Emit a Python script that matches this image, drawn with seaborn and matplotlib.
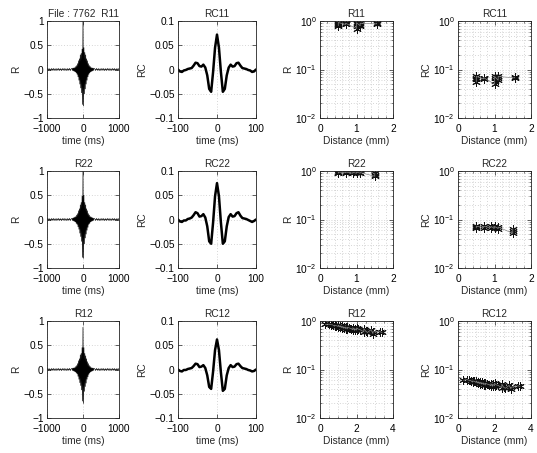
import numpy as np
import pandas as pd
import matplotlib
matplotlib.use("Agg")
import matplotlib.pyplot as plt
import seaborn as sns
from matplotlib.ticker import MultipleLocator, LogLocator, NullFormatter

sns.set_style("ticks")
plt.rcParams['font.family'] = ['Liberation Sans', 'DejaVu Sans']
plt.rcParams.update({
    'font.size': 7.3,
    'xtick.direction': 'in', 'ytick.direction': 'in',
    'xtick.major.size': 3, 'ytick.major.size': 3,
    'xtick.minor.size': 1.5, 'ytick.minor.size': 1.5,
    'xtick.major.width': 0.5, 'ytick.major.width': 0.5,
    'xtick.minor.width': 0.4, 'ytick.minor.width': 0.4,
    'axes.linewidth': 0.6, 'axes.edgecolor': '#222222',
    'xtick.color': '#222222', 'ytick.color': '#222222',
    'xtick.labelcolor': 'black', 'ytick.labelcolor': 'black',
    'xtick.top': True, 'ytick.right': True,
    'xtick.major.pad': 4, 'ytick.major.pad': 2.5,
    'axes.labelpad': 1.5,
    'axes.titlepad': 3,
    'axes.titlesize': 7.3, 'axes.labelsize': 7.3,
    'xtick.labelsize': 7.3, 'ytick.labelsize': 7.3,
})

# ---------------- data ----------------
# correlograms (R), core lags -300..300 ms in 12.5 ms steps
R11_core = [0.02, -0.02, 0.03, -0.03, 0.03, -0.04, 0.04, -0.05, 0.06, -0.07, 0.08, -0.1, 0.12, -0.15,
            0.18, -0.22, 0.22, -0.3, 0.3, -0.38, 0.33, -0.48, 0.42, -0.72, 1.0, -0.75, 0.45, -0.5, 0.35,
            -0.4, 0.3, -0.3, 0.22, -0.22, 0.18, -0.15, 0.12, -0.1, 0.08, -0.07, 0.06, -0.05, 0.04, -0.04,
            0.03, -0.03, 0.03, -0.02, 0.02]
R22_core = [0.02, -0.02, 0.03, -0.03, 0.04, -0.04, 0.05, -0.05, 0.06, -0.08, 0.09, -0.1, 0.12, -0.15,
            0.18, -0.2, 0.22, -0.28, 0.3, -0.35, 0.35, -0.45, 0.48, -0.78, 1.0, -0.8, 0.5, -0.5, 0.35,
            -0.38, 0.3, -0.3, 0.22, -0.22, 0.18, -0.16, 0.12, -0.1, 0.09, -0.08, 0.06, -0.05, 0.05, -0.04,
            0.04, -0.03, 0.03, -0.02, 0.02]
R12_core = [0.02, -0.02, 0.03, -0.03, 0.03, -0.04, 0.04, -0.05, 0.06, -0.07, 0.08, -0.09, 0.12, -0.14,
            0.18, -0.2, 0.22, -0.27, 0.3, -0.33, 0.33, -0.42, 0.45, -0.65, 0.87, -0.7, 0.45, -0.45, 0.33,
            -0.35, 0.28, -0.28, 0.22, -0.2, 0.16, -0.15, 0.12, -0.1, 0.08, -0.07, 0.06, -0.05, 0.04, -0.04,
            0.03, -0.03, 0.03, -0.02, 0.02]
# baseline ripple for |lag| > 300 ms, 25 ms steps (325..1000)
R_tail = [0.015, -0.018, 0.02, -0.015, 0.018, -0.02, 0.015, -0.018, 0.02, -0.015, 0.018, -0.02, 0.015, -0.018,
          0.02, -0.015, 0.018, -0.02, 0.015, -0.018, 0.02, -0.015, 0.018, -0.02, 0.015, -0.018, 0.02, -0.01]

# RC correlograms, lags -100..100 ms in 5 ms steps
RC11 = [0.0, -0.004, -0.005, -0.002, -0.001, 0.001, 0.002, 0.003, 0.008, 0.014, 0.013, 0.007, 0.006, 0.010,
        0.004, -0.012, -0.04, -0.046, -0.005, 0.045, 0.072, 0.045, -0.005, -0.046, -0.04, -0.012, 0.004,
        0.010, 0.006, 0.007, 0.013, 0.014, 0.008, 0.003, 0.002, 0.001, -0.001, -0.002, -0.005, -0.004, 0.0]
RC22 = [0.0, -0.004, -0.005, -0.002, -0.002, 0.001, 0.002, 0.004, 0.009, 0.015, 0.013, 0.006, 0.007, 0.011,
        0.004, -0.014, -0.045, -0.05, -0.006, 0.048, 0.075, 0.048, -0.006, -0.05, -0.045, -0.014, 0.005,
        0.011, 0.006, 0.007, 0.013, 0.015, 0.008, 0.003, 0.002, 0.001, -0.001, -0.003, -0.005, -0.003, 0.0]
RC12 = [0.0, -0.003, -0.004, -0.001, -0.001, 0.001, 0.002, 0.003, 0.007, 0.012, 0.011, 0.005, 0.006, 0.009,
        0.003, -0.012, -0.036, -0.04, -0.004, 0.04, 0.062, 0.04, -0.006, -0.044, -0.04, -0.012, 0.003,
        0.009, 0.005, 0.006, 0.011, 0.012, 0.007, 0.003, 0.002, 0.001, -0.001, -0.002, -0.004, -0.003, 0.0]

# distance vs. peak values
dist11 = [0.5, 0.5, 0.5, 0.5, 0.7, 0.7, 0.7, 1.0, 1.0, 1.0, 1.0, 1.1, 1.1, 1.1, 1.55, 1.55]
r11 = [0.93, 0.88, 0.84, 0.80, 0.90, 0.87, 0.85, 0.92, 0.85, 0.78, 0.70, 0.90, 0.84, 0.80, 0.90, 0.87]
rc11 = [0.072, 0.068, 0.063, 0.055, 0.068, 0.066, 0.064, 0.072, 0.066, 0.058, 0.050, 0.072, 0.066, 0.060,
        0.070, 0.067]

dist22 = [0.5, 0.5, 0.5, 0.7, 0.7, 0.9, 0.9, 1.0, 1.0, 1.1, 1.1, 1.5, 1.5, 1.5]
r22 = [0.95, 0.93, 0.90, 0.95, 0.92, 0.94, 0.90, 0.95, 0.90, 0.93, 0.90, 0.90, 0.84, 0.78]
rc22 = [0.073, 0.070, 0.067, 0.072, 0.068, 0.072, 0.068, 0.072, 0.066, 0.070, 0.065, 0.065, 0.058, 0.052]

dist12 = [0.3, 0.5, 0.6, 0.7, 0.8, 0.8, 0.9, 1.0, 1.0, 1.1, 1.1, 1.2, 1.2, 1.3, 1.3, 1.4, 1.4, 1.5, 1.5,
          1.6, 1.7, 1.8, 1.8, 1.9, 1.9, 2.0, 2.0, 2.1, 2.2, 2.4, 2.4, 2.5, 2.6, 2.8, 2.9, 2.9, 3.3, 3.4]
r12 = [0.85, 0.86, 0.84, 0.83, 0.82, 0.78, 0.80, 0.82, 0.77, 0.80, 0.75, 0.78, 0.73, 0.76, 0.71, 0.75, 0.70,
       0.74, 0.69, 0.72, 0.70, 0.73, 0.66, 0.70, 0.64, 0.72, 0.65, 0.68, 0.66, 0.70, 0.60, 0.62, 0.58, 0.66,
       0.60, 0.55, 0.60, 0.58]
rc12 = [0.060, 0.062, 0.060, 0.059, 0.058, 0.055, 0.057, 0.058, 0.054, 0.056, 0.052, 0.055, 0.051, 0.054,
        0.050, 0.053, 0.049, 0.052, 0.048, 0.050, 0.049, 0.051, 0.046, 0.050, 0.045, 0.052, 0.046, 0.048,
        0.047, 0.050, 0.042, 0.043, 0.041, 0.047, 0.043, 0.040, 0.046, 0.045]

titles_R = ["File : 7762  R11", "R22", "R12"]
titles_RC = ["RC11", "RC22", "RC12"]

# ---------------- figure ----------------
W, H = 537, 453
fig = plt.figure(figsize=(W / 100, H / 100), dpi=100)

cols = [(47, 119), (178, 256), (320, 393), (458, 531)]
rows = [(21, 118), (171, 268), (321, 418)]


def make_ax(r, c):
    x0, x1 = cols[c]
    y0, y1 = rows[r]
    return fig.add_axes([x0 / W, 1 - y1 / H, (x1 - x0) / W, (y1 - y0) / H])


grid_kw = dict(color='#b0b0b0', linestyle=(0, (1, 3)), linewidth=0.5)

core_t = np.arange(-300, 300.01, 12.5)
tail_t = np.arange(325, 1000.01, 25)
rc_t = np.arange(-100, 100.01, 5)

R_sets = [R11_core, R22_core, R12_core]
RC_sets = [RC11, RC22, RC12]
dist_sets = [(dist11, r11, rc11, 2), (dist22, r22, rc22, 2), (dist12, r12, rc12, 4)]

star = (6, 2, 0)

for i in range(3):
    # column 1: R correlogram
    ax = make_ax(i, 0)
    t = np.concatenate([-tail_t[::-1], core_t, tail_t])
    v = list(R_tail[::-1]) + list(R_sets[i]) + list(R_tail)
    df = pd.DataFrame({'t': t, 'v': v})
    sns.lineplot(data=df, x='t', y='v', ax=ax, color='black', lw=0.5, estimator=None, sort=False)
    ax.set_xlim(-1000, 1000)
    ax.set_ylim(-1, 1)
    ax.set_xticks([-1000, 0, 1000])
    ax.set_yticks([-1, -0.5, 0, 0.5, 1])
    ax.set_yticklabels(['\u22121', '\u22120.5', '0', '0.5', '1'])
    ax.set_xticklabels(['\u22121000', '0', '1000'])
    ax.grid(True, **grid_kw)
    ax.set_axisbelow(True)
    ax.set_xlabel('time (ms)')
    ax.set_ylabel('R')
    ax.set_title(titles_R[i])

    # column 2: RC correlogram
    ax = make_ax(i, 1)
    df = pd.DataFrame({'t': rc_t, 'v': RC_sets[i]})
    sns.lineplot(data=df, x='t', y='v', ax=ax, color='black', lw=1.8, estimator=None, sort=False)
    ax.set_xlim(-100, 100)
    ax.set_ylim(-0.1, 0.1)
    ax.set_xticks([-100, 0, 100])
    ax.set_xticklabels(['\u2212100', '0', '100'])
    ax.set_yticks([-0.1, -0.05, 0, 0.05, 0.1])
    ax.set_yticklabels(['\u22120.1', '\u22120.05', '0', '0.05', '0.1'])
    ax.grid(True, **grid_kw)
    ax.set_axisbelow(True)
    ax.set_xlabel('time (ms)')
    ax.set_ylabel('RC')
    ax.set_title(titles_RC[i])

    # columns 3 & 4: peak vs distance (log)
    d, rv, rcv, xmax = dist_sets[i]
    for c, vals, lab, ttl in [(2, rv, 'R', titles_R[i].split()[-1]), (3, rcv, 'RC', titles_RC[i])]:
        ax = make_ax(i, c)
        df = pd.DataFrame({'d': d, 'v': vals})
        sns.lineplot(data=df, x='d', y='v', ax=ax, color='#888888', lw=0.5, estimator=None, sort=True)
        sns.scatterplot(data=df, x='d', y='v', ax=ax, marker=star, color='#111111', s=30, linewidth=0.7)
        ax.set_yscale('log')
        ax.set_ylim(0.01, 1)
        ax.set_xlim(0, xmax)
        ax.set_yticks([0.01, 0.1, 1])
        ax.yaxis.set_minor_locator(LogLocator(base=10, subs=np.arange(2, 10)))
        ax.yaxis.set_minor_formatter(NullFormatter())
        ax.set_xticks([0, 1, 2] if xmax == 2 else [0, 2, 4])
        ax.xaxis.set_minor_locator(MultipleLocator(0.2 if xmax == 2 else 0.5))
        ax.grid(True, which='both', **grid_kw)
        ax.set_axisbelow(True)
        ax.set_xlabel('Distance (mm)')
        ax.set_ylabel(lab)
        ax.set_title(ttl)

fig.savefig('out.png', dpi=100)
